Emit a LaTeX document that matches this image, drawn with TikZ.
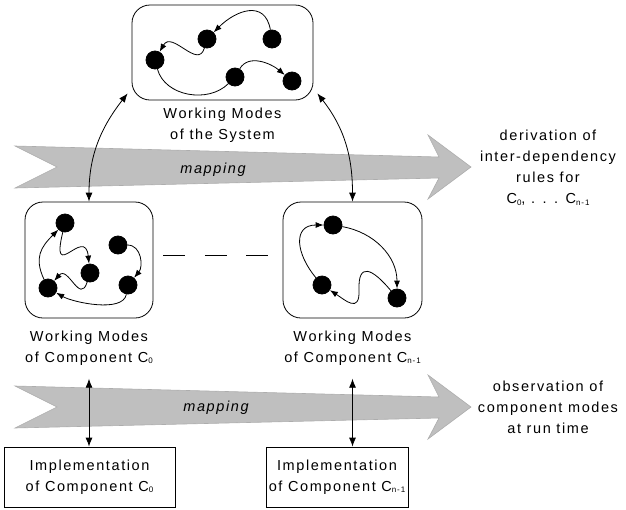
\documentclass[tikz,border=0pt]{standalone}
\usepackage{fontspec}
\setmainfont{Liberation Sans}[LetterSpace=11]
\usepackage{tikz}
\usetikzlibrary{calc}
\usetikzlibrary{arrows.meta}
\usetikzlibrary{positioning}

\newcommand{\idx}[1]{\raisebox{-1.5pt}{\fontsize{8}{8}\selectfont #1}}

\begin{document}
\begin{tikzpicture}[x=1pt, y=-1pt, line width=0.8pt,
    state/.style={circle, draw, inner sep=0pt, fill=black, minimum size=18pt},
    modebox/.style={draw, rounded corners=18pt, inner sep=0pt},
    txt/.style={align=center, font=\fontsize{14.5}{21}\selectfont, inner sep=0pt}]
    \tikzset{implbox/.style={draw, txt, minimum height=60pt}}
    \tikzset{bigarrow/.style={fill=black!25, draw=black!32, line width=0.6pt}}
    \tikzset{>={Latex[length=8pt, width=6pt]}, dbl/.style={<->, >={Latex[length=9pt, width=7pt]}}}
    \useasboundingbox (0,0) rectangle (626,509);

    % broad mapping arrows
    \foreach \dy in {0,240} {
    \begin{scope}[shift={(0,\dy)}]
    \draw[bigarrow] (15,146) -- (439,157) -- (428,135) -- (471,167) -- (428,199) -- (439,178) -- (15,188) -- (57,167) -- cycle;
    \end{scope}
    }
    \node[txt, font=\fontsize{14.5}{21}\selectfont\itshape] (map1) at (213,170) {mapping};
    \node[txt, font=\fontsize{14.5}{21}\selectfont\itshape] (map2) at (216,408) {mapping};

    \node[modebox, minimum width=181pt, minimum height=95pt] (sys) at (222.5,52.5) {};
    \node[modebox, minimum width=128pt, minimum height=116pt] (cmp0) at (89,260) {};
    \node[modebox, minimum width=139pt, minimum height=116pt] (cmpn) at (352.5,260) {};

    \node[txt, below=7pt of sys] (syslbl) {Working Modes\\of the System};
    \node[txt, below=12pt of cmp0] (lbl0) {Working Modes\\of Component C\idx{0}};
    \node[txt, below=12pt of cmpn] (lbln) {Working Modes\\of Component C\idx{n-1}};

    \node[implbox, minimum width=171pt] (impl0) at (89.5,477) {Implementation\\of Component C\idx{0}};
    \node[implbox, minimum width=142pt] (impln) at (337,477) {Implementation\\of Component C\idx{n-1}};

    \node[txt] (deriv) at (548,168) {derivation of\\inter-dependency\\rules for\\C\idx{0}, . . . C\idx{n-1}};
    \node[txt] (observ) at (548,407) {observation of\\component modes\\at run time};

    % modes of the system
    \node[state] (s1) at (207,39) {};
    \node[state] (s2) at (272,39) {};
    \node[state] (s3) at (155,60) {};
    \node[state] (s4) at (235,77) {};
    \node[state] (s5) at (292,81) {};
    \draw[->] (s2) to[out=100, in=45, looseness=1.4] (s1);
    \draw[->] (s1) .. controls (198,70) and (172,30) .. (s3);
    \draw (s3) to[out=-75, in=225] (s4);
    \draw[->] (s4) to[out=60, in=140] (s5);

    % modes of component 0
    \node[state] (a1) at (65,223) {};
    \node[state] (a2) at (118,245) {};
    \node[state] (a3) at (90,273) {};
    \node[state] (a4) at (48,288) {};
    \node[state] (a5) at (128,285) {};
    \draw[->] (a4) to[out=115, in=225, looseness=1.2] (a1);
    \draw[->] (a1) .. controls (50,285) and (85,225) .. (a3);
    \draw[->] (a3) .. controls (80,305) and (68,265) .. (a4);
    \draw[->] (a2) to[out=0, in=50, looseness=1.1] (a5);
    \draw[->] (a5) to[out=-100, in=-30, looseness=0.7] (a4);

    % modes of component n-1
    \node[state] (b1) at (333,225) {};
    \node[state] (b2) at (322,285) {};
    \node[state] (b3) at (397,298) {};
    \draw[->] (b2) to[out=130, in=180, looseness=1.5] (b1);
    \draw[->] (b1) to[out=-10, in=90] (b3);
    \draw[->] (b3) .. controls (372,268) and (358,262) .. (359,290) .. controls (360,314) and (345,300) .. (b2);

    \draw[dbl] ([xshift=-4pt, yshift=7pt]sys.south west) to[out=232, in=90] (cmp0.north);
    \draw[dbl] ([xshift=4pt, yshift=7pt]sys.south east) to[out=-52, in=90] (cmpn.north);
    \draw[dbl] ([yshift=-13pt]lbl0.south) -- (lbl0.south |- impl0.north);
    \draw[dbl] ([yshift=-13pt]lbln.south) -- (lbln.south |- impln.north);
    \draw[dash pattern=on 22pt off 19.5pt, shorten <=10pt, shorten >=15pt] ([yshift=5pt]cmp0.east) -- ([yshift=5pt]cmpn.west);
\end{tikzpicture}
\end{document}
